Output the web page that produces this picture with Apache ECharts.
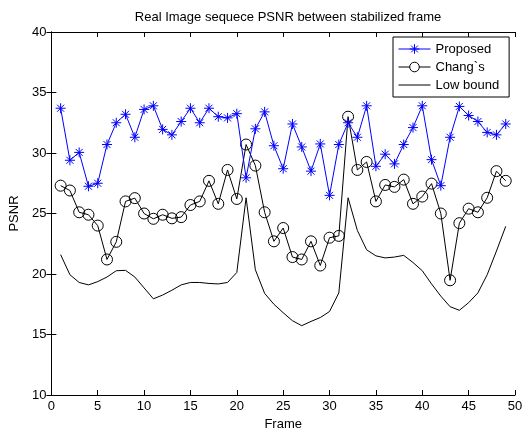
<!DOCTYPE html>
<html>
<head>
<meta charset="utf-8">
<script src="https://cdn.jsdelivr.net/npm/echarts@6/dist/echarts.min.js"></script>
<style>
html,body{margin:0;padding:0;background:#fff;}
#chart{width:526px;height:436px;}
</style>
</head>
<body>
<div id="chart"></div>
<script>
var frames = [];
for (var i = 1; i <= 49; i++) frames.push(i);
var proposed = [33.7,29.4,30.05,27.25,27.5,30.7,32.5,33.2,31.3,33.6,33.9,31.95,31.5,32.6,33.7,32.5,33.7,33.0,32.9,33.25,27.95,32.0,33.4,30.6,28.7,32.4,30.5,28.5,30.75,26.5,30.7,32.5,31.3,33.9,28.9,29.9,29.1,30.7,32.1,33.9,29.45,27.3,31.3,33.85,33.1,32.6,31.7,31.5,32.4];
var changs = [27.3,26.9,25.1,24.9,24.0,21.2,22.66,26.0,26.27,25.0,24.56,24.9,24.6,24.7,25.7,26.0,27.7,25.8,28.6,26.2,30.7,28.96,25.1,22.7,23.8,21.4,21.2,22.7,20.7,23.0,23.15,33.0,28.6,29.26,26.0,27.36,27.2,27.8,25.8,26.4,27.47,25.0,19.48,24.2,25.4,25.1,26.3,28.5,27.7];
var lowBound = [21.6,19.94,19.3,19.1,19.37,19.75,20.27,20.3,19.75,18.85,17.95,18.26,18.66,19.1,19.3,19.3,19.22,19.18,19.3,20.13,26.3,20.35,18.4,17.5,16.8,16.14,15.73,16.08,16.4,16.9,18.44,26.3,23.6,22.0,21.5,21.33,21.4,21.54,20.95,20.27,19.18,18.17,17.3,17.0,17.63,18.44,19.94,21.9,23.94];
var xTicks = [0,5,10,15,20,25,30,35,40,45,50];
var yTicks = [10,15,20,25,30,35,40];

function pairs(vals){ return frames.map(function(f,i){ return [f, vals[i]]; }); }

var FONT = 'Liberation Sans, Arial, sans-serif';
var starPath = 'path://M0,-10L0,10M-10,0L10,0M-7,-7L7,7M-7,7L7,-7';

var chart = echarts.init(document.getElementById('chart'), null, {renderer:'canvas'});
var axisCommon = {
  axisLine:{show:true, lineStyle:{color:'#000', width:1}},
  axisTick:{show:true, inside:true, length:5, lineStyle:{color:'#000'}},
  splitLine:{show:false}
};
chart.setOption({
  backgroundColor:'#fff',
  animation:false,
  title:{
    text:'Real Image sequece PSNR between stabilized frame',
    left:283, top:6, textAlign:'center',
    textStyle:{fontFamily:FONT, fontSize:13, fontWeight:'normal', color:'#000'}
  },
  legend:{
    orient:'vertical', left:393, top:37,
    backgroundColor:'#fff', borderColor:'#000', borderWidth:1,
    padding:[5,10,5,5], itemGap:4, itemWidth:32, itemHeight:12,
    lineStyle:{width:1},
    textStyle:{fontFamily:FONT, fontSize:13, color:'#000', lineHeight:14},
    data:[
      {name:'Proposed', itemStyle:{color:'#0000ff', borderColor:'#0000ff', borderWidth:1}},
      {name:'Chang`s', itemStyle:{color:'#fff', borderColor:'#000', borderWidth:1}},
      {name:'Low bound', itemStyle:{opacity:0}}
    ]
  },
  grid:{left:51, right:11, top:32, bottom:36, containLabel:false},
  xAxis:[
    Object.assign({type:'value', min:0, max:50, interval:5, position:'bottom',
      name:'Frame', nameLocation:'middle', nameGap:23,
      nameTextStyle:{fontFamily:FONT, fontSize:13, color:'#000'},
      axisLabel:{fontFamily:FONT, fontSize:13, color:'#000', margin:5,
        formatter:function(v){ return xTicks.indexOf(v)>=0 ? String(v) : ''; }}
    }, axisCommon),
    Object.assign({type:'value', min:0, max:50, interval:5, position:'top',
      axisLabel:{show:false}}, axisCommon)
  ],
  yAxis:[
    Object.assign({type:'value', min:10, max:40, interval:5, position:'left',
      name:'PSNR', nameLocation:'middle', nameGap:28,
      nameTextStyle:{fontFamily:FONT, fontSize:13, color:'#000'},
      axisLabel:{fontFamily:FONT, fontSize:13, color:'#000', margin:5,
        formatter:function(v){ return yTicks.indexOf(v)>=0 ? String(v) : ''; }}
    }, axisCommon),
    Object.assign({type:'value', min:10, max:40, interval:5, position:'right',
      axisLabel:{show:false}}, axisCommon)
  ],
  series:[
    {name:'Proposed', type:'line', data:pairs(proposed), xAxisIndex:0, yAxisIndex:0,
      symbol:starPath, symbolSize:10, showAllSymbol:true,
      lineStyle:{color:'#0000ff', width:1},
      itemStyle:{color:'#0000ff', borderColor:'#0000ff', borderWidth:1},
      z:3},
    {name:'Chang`s', type:'line', data:pairs(changs), xAxisIndex:0, yAxisIndex:0,
      symbol:'circle', symbolSize:11, showAllSymbol:true,
      lineStyle:{color:'#000', width:1},
      itemStyle:{color:'rgba(0,0,0,0)', borderColor:'#000', borderWidth:1},
      z:2},
    {name:'Low bound', type:'line', data:pairs(lowBound), xAxisIndex:0, yAxisIndex:0,
      symbol:'none',
      lineStyle:{color:'#000', width:1},
      itemStyle:{color:'#000'},
      z:1}
  ]
});
</script>
</body>
</html>
